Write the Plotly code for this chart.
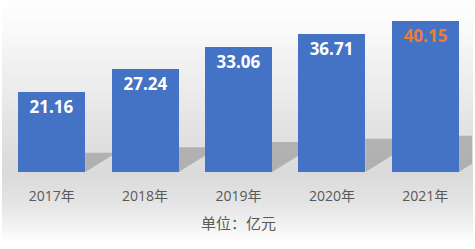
import plotly.graph_objects as go

categories = ["2017年", "2018年", "2019年", "2020年", "2021年"]
values = [21.16, 27.24, 33.06, 36.71, 40.15]
label_texts = ["21.16", "27.24", "33.06", "36.71", "40.15"]
label_colors = ["#FFFFFF", "#FFFFFF", "#FFFFFF", "#FFFFFF", "#ED7D31"]
unit_label = "单位：亿元"

W, H = 475, 249
ML, MR, MT, MB = 5, 3, 2, 77
PW, PH = W - ML - MR, H - MT - MB
YMAX = 45.1
BAR_W = 0.717

xs = list(range(len(categories)))

fig = go.Figure()
fig.add_trace(go.Bar(
    x=xs, y=values, width=BAR_W,
    marker=dict(color="#4472C4", line=dict(width=0)),
    text=label_texts, textposition="inside", insidetextanchor="end",
    textangle=0,
    textfont=dict(family="Open Sans, Noto Sans CJK SC", size=17, color=label_colors, weight="bold"),
    hoverinfo="skip", cliponaxis=False,
))

shapes = []
stops = [(0, 254), (30, 249), (60, 241), (90, 235), (120, 228), (150, 222), (172, 218),
         (190, 224), (205, 230), (220, 240), (232, 248), (240, 254), (249, 255)]
def py(ypx):
    return (MT + PH - ypx) / PH
def px(xpx):
    return (xpx - ML) / PW
step = 3
y = 0
while y < H:
    for (a, ca), (b, cb) in zip(stops[:-1], stops[1:]):
        if a <= y <= b:
            c = ca + (cb - ca) * (y - a) / (b - a)
            break
    c = int(round(c))
    shapes.append(dict(type="rect", xref="paper", yref="paper",
                       x0=px(2), x1=px(W - 2), y0=py(min(y + step, H)), y1=py(y),
                       fillcolor=f"rgb({c},{c},{c})", line=dict(width=0), layer="below"))
    y += step

upx = (len(categories)) / PW
vpx = YMAX / PH
for i, v in enumerate(values):
    xr = i + BAR_W / 2
    L = 30 * upx
    rise = 30 * 0.62 * vpx
    top = 0.24 * v
    path = (f"M {xr},0 L {xr + L},{min(rise, top)} L {xr + L},{top} L {xr},{top} Z")
    shapes.append(dict(type="path", xref="x", yref="y", path=path,
                       fillcolor="rgba(140,140,140,0.55)", line=dict(width=0), layer="below"))

fig.update_layout(
    width=W, height=H,
    margin=dict(l=ML, r=MR, t=MT, b=MB),
    paper_bgcolor="white", plot_bgcolor="rgba(0,0,0,0)",
    showlegend=False,
    shapes=shapes,
    bargap=0,
    xaxis=dict(range=[-0.5, len(categories) - 0.5], tickmode="array", tickvals=xs,
               ticktext=categories, showgrid=False, zeroline=False, showline=False,
               ticks="outside", ticklen=11, tickcolor="rgba(0,0,0,0)",
               tickfont=dict(family="Open Sans, Noto Sans CJK SC", size=14, color="#595959"),
               fixedrange=True),
    yaxis=dict(range=[0, YMAX], visible=False, fixedrange=True),
    annotations=[dict(text=unit_label, xref="paper", yref="paper", x=0.5, y=py(222),
                      xanchor="center", yanchor="middle", showarrow=False,
                      font=dict(family="Noto Sans CJK SC", size=15, color="#595959"))],
)

fig.write_html("out.html", config={"displayModeBar": False})
